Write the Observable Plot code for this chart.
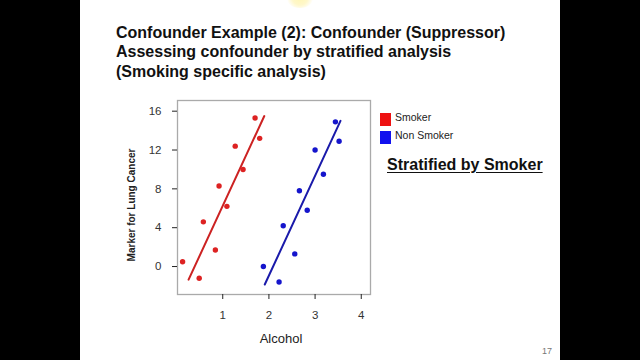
<!DOCTYPE html>
<html>
<head>
<meta charset="utf-8">
<script src="https://cdn.jsdelivr.net/npm/d3@7"></script>
<script src="https://cdn.jsdelivr.net/npm/@observablehq/plot@0.6"></script>
<style>
  html, body { margin: 0; padding: 0; background: #fff; }
  body { width: 640px; height: 360px; position: relative; overflow: hidden; font-family: "Liberation Sans", Arial, sans-serif; }
  .abs { position: absolute; white-space: nowrap; }
  #barL { left: 0; top: 0; width: 80px; height: 360px; background: #000; }
  #barR { left: 560px; top: 0; width: 80px; height: 360px; background: #000; }
  #glow { left: 286px; top: -14px; width: 28px; height: 22px; border-radius: 50%;
          background: radial-gradient(circle, rgba(255,245,170,0.9) 0%, rgba(255,240,150,0.5) 45%, rgba(255,255,255,0) 75%); }
  #title { left: 116px; top: 22.5px; font-weight: bold; font-size: 16px; line-height: 19.5px; color: #111; }
  #strat { left: 387px; top: 156px; font-weight: bold; font-size: 16px; color: #111; text-decoration: underline; text-underline-offset: 2px; }
  .leg { font-size: 10.5px; color: #222; }
  .sw { width: 11px; height: 13px; }
  #ylab { left: 131px; top: 205px; transform: translate(-50%, -50%) rotate(-90deg); font-weight: bold; font-size: 10px; color: #222; }
  #xlab { left: 281px; top: 338px; transform: translate(-50%, -50%); font-size: 13px; color: #222; }
  #page { left: 542px; top: 346px; font-size: 9px; color: #777; }
  #chart { left: 100px; top: 95px; }
</style>
</head>
<body>
<div id="barL" class="abs"></div>
<div id="barR" class="abs"></div>
<div id="glow" class="abs"></div>
<div id="title" class="abs">Confounder Example (2): Confounder (Suppressor)<br>Assessing confounder by stratified analysis<br>(Smoking specific analysis)</div>
<div id="chart" class="abs"></div>
<div id="ylab" class="abs">Marker for Lung Cancer</div>
<div id="xlab" class="abs">Alcohol</div>
<div class="abs sw" style="left:380px;top:113px;background:#ee1111;"></div>
<div class="abs leg" style="left:395px;top:111px;">Smoker</div>
<div class="abs sw" style="left:380px;top:131px;background:#1111ee;"></div>
<div class="abs leg" style="left:395px;top:129px;">Non Smoker</div>
<div id="strat" class="abs">Stratified by Smoker</div>
<div id="page" class="abs">17</div>
<script>
// Data
const smokerX = [0.13, 0.49, 0.58, 0.84, 0.92, 1.09, 1.27, 1.44, 1.70, 1.80];
const smokerY = [0.5, -1.2, 4.6, 1.7, 8.3, 6.2, 12.4, 10.0, 15.3, 13.2];
const nonSmokerX = [1.88, 2.22, 2.31, 2.56, 2.66, 2.83, 3.00, 3.18, 3.44, 3.52];
const nonSmokerY = [0.0, -1.6, 4.2, 1.3, 7.8, 5.8, 12.0, 9.5, 14.9, 12.9];
// Fitted-line endpoints as drawn in the picture
const smokerLineX = [0.26, 1.90];
const smokerLineY = [-1.35, 15.5];
const nonSmokerLineX = [1.91, 3.55];
const nonSmokerLineY = [-1.85, 15.0];
const xTicks = [1, 2, 3, 4];
const yTicks = [0, 4, 8, 12, 16];

const toRows = (xs, ys) => xs.map((x, i) => ({x, y: ys[i]}));
const smoker = toRows(smokerX, smokerY);
const nonSmoker = toRows(nonSmokerX, nonSmokerY);
const smokerLine = toRows(smokerLineX, smokerLineY);
const nonSmokerLine = toRows(nonSmokerLineX, nonSmokerLineY);

const chart = Plot.plot({
  width: 280,
  height: 260,
  marginLeft: 77,
  marginRight: 10,
  marginTop: 5,
  marginBottom: 61,
  style: {fontFamily: "'Liberation Sans', Arial, sans-serif", fontSize: "11.5px", color: "#333", background: "transparent"},
  x: {domain: [0.02, 4.2]},
  y: {domain: [-2.88, 17.1]},
  marks: [
    Plot.frame({stroke: "#aaaaaa", strokeWidth: 1.3}),
    Plot.axisX({ticks: xTicks, tickSize: 5, tickPadding: 11, label: null, stroke: "#222", fill: "#333", tickFormat: d => String(d)}),
    Plot.axisY({ticks: yTicks, tickSize: 5, tickPadding: 11, label: null, stroke: "#222", fill: "#333", tickFormat: d => String(d)}),
    Plot.line(smokerLine, {x: "x", y: "y", stroke: "#cc2222", strokeWidth: 2}),
    Plot.line(nonSmokerLine, {x: "x", y: "y", stroke: "#1a1aaa", strokeWidth: 2}),
    Plot.dot(smoker, {x: "x", y: "y", r: 2.7, fill: "#dd2222", stroke: null}),
    Plot.dot(nonSmoker, {x: "x", y: "y", r: 2.7, fill: "#1515cc", stroke: null})
  ]
});
document.getElementById("chart").appendChild(chart);
</script>
</body>
</html>
